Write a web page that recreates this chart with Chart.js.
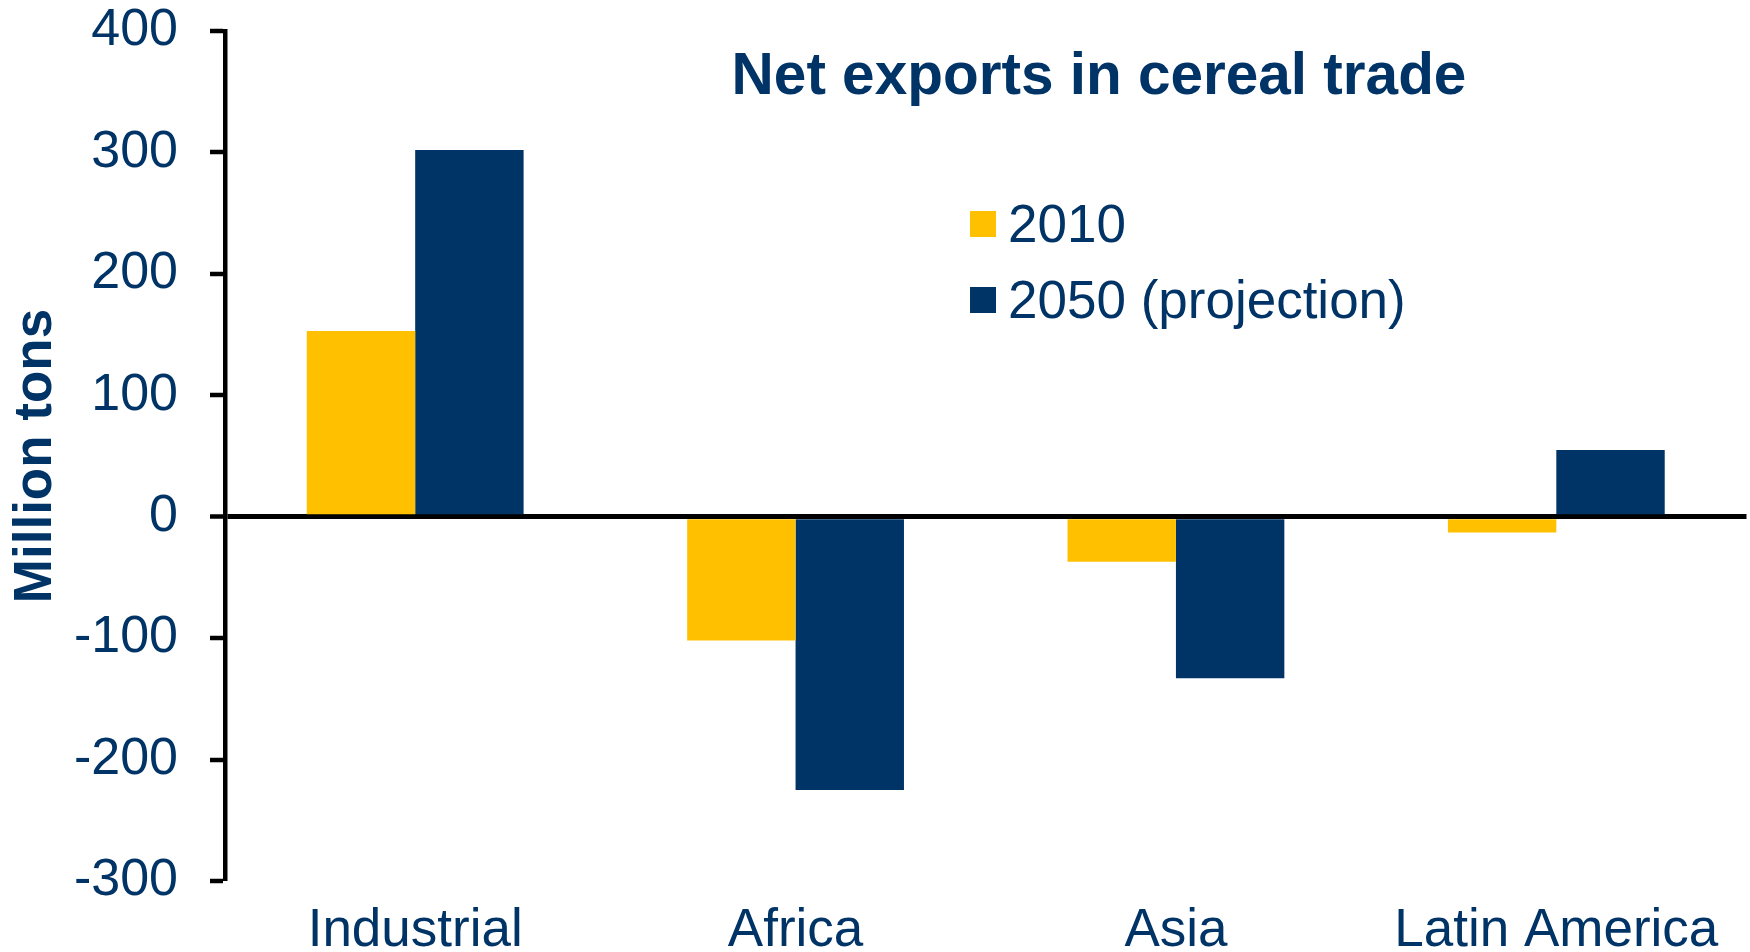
<!DOCTYPE html>
<html>
<head>
<meta charset="utf-8">
<title>Net exports in cereal trade</title>
<script src="https://cdn.jsdelivr.net/npm/chart.js@4/dist/chart.umd.min.js"></script>
<style>
  html, body { margin: 0; padding: 0; background: #ffffff; }
  #wrap { width: 1750px; height: 952px; }
</style>
</head>
<body>
<div id="wrap"><canvas id="chart" width="1750" height="952"></canvas></div>
<script>
// Regions and net cereal exports (million tons)
const regions = ['Industrial', 'Africa', 'Asia', 'Latin America'];
const exports2010 = [153, -102, -37, -13];
const exports2050 = [302, -225, -133, 55];
const seriesLabels = ['2010', '2050 (projection)'];
const chartTitle = 'Net exports in cereal trade';
const axisTitle = 'Million tons';

const NAVY = '#003366';
const GOLD = '#FFC000';
const FONT = "'Liberation Sans', Arial, Helvetica, sans-serif";

// Title and legend drawn inside the plot area, upper right
const overlayPlugin = {
  id: 'overlay',
  afterDraw(chart) {
    const ctx = chart.ctx;
    ctx.save();
    ctx.fillStyle = NAVY;
    ctx.font = 'bold 58.5px ' + FONT;
    ctx.textAlign = 'center';
    ctx.textBaseline = 'alphabetic';
    ctx.fillText(chartTitle, 1099, 94);

    ctx.font = '53px ' + FONT;
    ctx.textAlign = 'left';
    const rows = [{ y: 242 }, { y: 318 }];
    chart.data.datasets.forEach((ds, i) => {
      const base = rows[i].y;
      ctx.fillStyle = ds.backgroundColor;
      ctx.fillRect(970, base - 31, 26, 26);
      ctx.fillStyle = NAVY;
      ctx.fillText(ds.label, 1008, base);
    });
    ctx.restore();
  }
};

new Chart(document.getElementById('chart'), {
  type: 'bar',
  data: {
    labels: regions,
    datasets: [
      { label: seriesLabels[0], data: exports2010, backgroundColor: GOLD, borderWidth: 0 },
      { label: seriesLabels[1], data: exports2050, backgroundColor: NAVY, borderWidth: 0 }
    ]
  },
  options: {
    responsive: false,
    animation: false,
    devicePixelRatio: 1,
    layout: { padding: { left: 0, right: 3.5, top: 31, bottom: 0 } },
    plugins: {
      legend: { display: false },
      title: { display: false },
      tooltip: { enabled: false }
    },
    datasets: {
      bar: { categoryPercentage: 0.57, barPercentage: 1.0 }
    },
    scales: {
      x: {
        grid: { display: false, drawTicks: false },
        border: { display: false },
        ticks: {
          color: NAVY,
          font: { family: FONT, size: 53 },
          padding: 19,
          maxRotation: 0,
          autoSkip: false
        },
        afterFit(scale) { scale.height = 71; }
      },
      y: {
        min: -300,
        max: 400,
        ticks: {
          stepSize: 100,
          color: NAVY,
          font: { family: FONT, size: 52 },
          padding: 32
        },
        grid: {
          drawOnChartArea: true,
          color: (c) => (c.tick && c.tick.value === 0 ? '#000000' : 'rgba(0,0,0,0)'),
          lineWidth: (c) => (c.tick && c.tick.value === 0 ? 5 : 0),
          tickColor: '#000000',
          tickWidth: 4.5,
          tickLength: 15
        },
        border: { display: true, color: '#000000', width: 4.5 },
        title: {
          display: true,
          text: axisTitle,
          color: NAVY,
          font: { family: FONT, size: 53, weight: 'bold' },
          padding: { top: 5, bottom: 0 }
        },
        afterFit(scale) {
          scale.width = 225;
          scale.paddingTop = 0;
          scale.paddingBottom = 0;
        }
      }
    }
  },
  plugins: [overlayPlugin]
});
</script>
</body>
</html>
